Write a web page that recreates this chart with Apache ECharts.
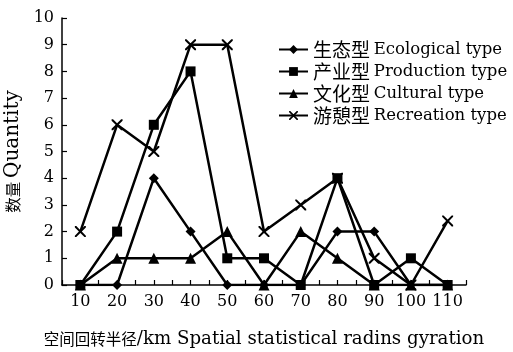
<!DOCTYPE html>
<html><head><meta charset="utf-8">
<script src="https://cdn.jsdelivr.net/npm/echarts@6/dist/echarts.min.js"></script>
<style>html,body{margin:0;padding:0;background:#fff}#c{width:513px;height:352px}</style>
</head><body><div id="c"></div>
<script>
var radius = [10, 20, 30, 40, 50, 60, 70, 80, 90, 100, 110];
var ecological = [0, 0, 4, 2, 0, 0, 0, 2, 2, 0, 0];
var production = [0, 2, 6, 8, 1, 1, 0, 4, 0, 1, 0];
var cultural = [0, 1, 1, 1, 2, 0, 2, 1, 0, 0, 0];
var recreation = [2, 6, 5, 9, 9, 2, 3, 4, 1, 0, 2.4];
var seriesCn = ['生态型', '产业型', '文化型', '游憩型'];
var seriesEn = ['Ecological type', 'Production type', 'Cultural type', 'Recreation type'];
var xAxisCn = '空间回转半径';
var xAxisEn = '/km Spatial statistical radins gyration';
var yAxisCn = '数量';
var yAxisEn = 'Quantity';

var LAT = "'DejaVu Serif', 'Liberation Serif', serif";
var CJK = "'Noto Sans CJK SC', sans-serif";
var seriesNames = seriesCn.map(function(c,i){ return c + ' ' + seriesEn[i]; });
var crossPath = 'path://M0,0 L1.3,0 L5,3.7 L8.7,0 L10,0 L10,1.3 L6.3,5 L10,8.7 L10,10 L8.7,10 L5,6.3 L1.3,10 L0,10 L0,8.7 L3.7,5 L0,1.3 Z';
function pairs(arr){ return radius.map(function(r,i){ return [r, arr[i]]; }); }
function mk(name, arr, symbol, size){
  return {name:name, type:'line', data:pairs(arr), symbol:symbol, symbolSize:size,
    showAllSymbol:true,
    lineStyle:{color:'#000', width:2.5}, itemStyle:{color:'#000'}, emphasis:{disabled:true}, animation:false};
}
var chart = echarts.init(document.getElementById('c'));
chart.setOption({
  backgroundColor:'#fff',
  animation:false,
  textStyle:{fontFamily:LAT, color:'#000'},
  grid:{left:62, right:47, top:18, bottom:67, containLabel:false, outerBoundsMode:'none'},
  legend:{orient:'vertical', left:273, top:35, itemGap:3, itemWidth:29, itemHeight:11,
    data:seriesNames,
    formatter:function(n){ var i = seriesNames.indexOf(n); return '{c|' + seriesCn[i] + '} {e|' + seriesEn[i] + '}'; },
    textStyle:{color:'#000', rich:{
      c:{fontFamily:CJK, fontSize:19, color:'#000', lineHeight:20},
      e:{fontFamily:LAT, fontSize:16.5, color:'#000', lineHeight:20}}}},
  xAxis:{type:'value', min:5, max:115, interval:5,
    name:'{c|' + xAxisCn + '}{e|' + xAxisEn + '}', nameLocation:'middle', nameGap:45,
    nameTextStyle:{color:'#000', rich:{
      c:{fontFamily:CJK, fontSize:15.5, color:'#000'},
      e:{fontFamily:LAT, fontSize:18.2, color:'#000'}}},
    axisLine:{lineStyle:{color:'#000', width:1.5}},
    axisTick:{inside:true, length:5, lineStyle:{color:'#000', width:1.2}},
    axisLabel:{fontFamily:LAT, fontSize:16, color:'#000', margin:9,
      formatter:function(v){ return (v % 10 === 0) ? String(v) : ''; }},
    splitLine:{show:false}},
  yAxis:{type:'value', min:0, max:10, interval:1,
    name:'{c|' + yAxisCn + '} {e|' + yAxisEn + '}', nameLocation:'middle', nameGap:31,
    nameTextStyle:{color:'#000', rich:{
      c:{fontFamily:CJK, fontSize:15.5, color:'#000'},
      e:{fontFamily:LAT, fontSize:20, color:'#000'}}},
    axisLine:{show:true, lineStyle:{color:'#000', width:1.5}},
    axisTick:{show:true, inside:true, length:5, lineStyle:{color:'#000', width:1.2}},
    axisLabel:{fontFamily:LAT, fontSize:16, color:'#000', margin:8},
    splitLine:{show:false}},
  series:[
    mk(seriesNames[0], ecological, 'diamond', 10),
    mk(seriesNames[1], production, 'rect', 10),
    mk(seriesNames[2], cultural, 'triangle', 11),
    mk(seriesNames[3], recreation, crossPath, 11)
  ]
});
</script></body></html>
